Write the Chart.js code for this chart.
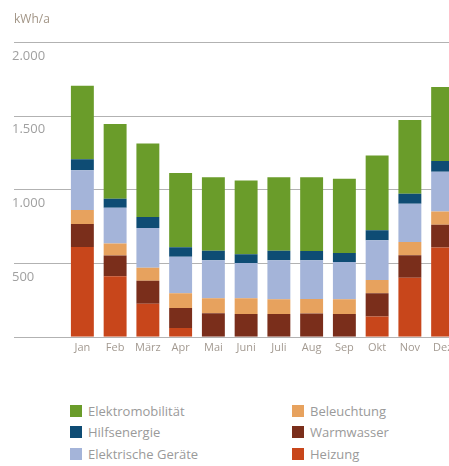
<!DOCTYPE html>
<html lang="de">
<head>
<meta charset="utf-8">
<title>Stromverbrauch je Monat</title>
<script src="https://cdn.jsdelivr.net/npm/chart.js@4"></script>
<style>
  html, body { margin: 0; padding: 0; background: #fff; overflow: hidden; }
  #wrap { position: relative; width: 449px; height: 466px; overflow: hidden; }
  #chart { position: absolute; left: 0; top: 0; }
  #legend {
    position: absolute; left: 70px; top: 400px;
    display: grid; grid-template-rows: repeat(3, 21.5px); grid-auto-flow: column;
    grid-template-columns: 222px auto;
    font: 13px "Open Sans", sans-serif; color: #9a9a9a;
  }
  #legend .item { display: flex; align-items: center; }
  #legend .box { width: 12px; height: 12px; margin-right: 6px; }
</style>
</head>
<body>
<div id="wrap">
  <canvas id="chart" width="462" height="364"></canvas>
  <div id="legend"></div>
</div>
<script>
// monthly demand in kWh, stacked from the bottom up
const months = ['Jan', 'Feb', 'März', 'Apr', 'Mai', 'Juni', 'Juli', 'Aug', 'Sep', 'Okt', 'Nov', 'Dez'];
const heizung = [610, 410, 225, 60, 0, 0, 0, 0, 0, 137, 400, 605];
const warmwasser = [155, 142, 155, 135, 160, 155, 155, 158, 155, 158, 153, 155];
const beleuchtung = [95, 81, 88, 101, 101, 106, 99, 99, 99, 90, 90, 90];
const geraete = [270, 243, 270, 247, 259, 240, 266, 262, 254, 270, 259, 270];
const hilfsenergie = [74, 61, 74, 64, 63, 59, 63, 63, 61, 68, 68, 72];
const elektromobilitaet = [500, 507, 500, 504, 500, 500, 500, 500, 503, 507, 500, 502];

const yTickValues = [500, 1000, 1500, 2000];
const yTickLabels = ['500', '1.000', '1.500', '2.000'];
const unitLabel = 'kWh/a';

// horizontal rules run out to the left edge, labels sit just under each rule
const gridPlugin = {
  id: 'leftGrid',
  beforeDatasetsDraw(chart) {
    const { ctx, scales: { y } } = chart;
    ctx.save();
    ctx.strokeStyle = '#b2b2b2';
    ctx.lineWidth = 1;
    [0, ...yTickValues].forEach(v => {
      const py = Math.round(y.getPixelForValue(v)) + 0.5;
      ctx.beginPath();
      ctx.moveTo(14, py);
      ctx.lineTo(chart.width, py);
      ctx.stroke();
    });
    ctx.fillStyle = '#a0a0a0';
    ctx.font = '13px "Open Sans"';
    ctx.textBaseline = 'middle';
    yTickValues.forEach((v, i) => {
      ctx.fillText(yTickLabels[i], 12, y.getPixelForValue(v) + 14);
    });
    ctx.fillStyle = '#a29586';
    ctx.font = '12px "Open Sans"';
    ctx.fillText(unitLabel, 14, 20);
    ctx.restore();
  }
};

const chart = new Chart(document.getElementById('chart'), {
  type: 'bar',
  data: {
    labels: months,
    datasets: [
      { label: 'Heizung', data: heizung, backgroundColor: '#c8461b' },
      { label: 'Warmwasser', data: warmwasser, backgroundColor: '#7a2e1b' },
      { label: 'Beleuchtung', data: beleuchtung, backgroundColor: '#e7a25e' },
      { label: 'Elektrische Geräte', data: geraete, backgroundColor: '#a4b4d9' },
      { label: 'Hilfsenergie', data: hilfsenergie, backgroundColor: '#0e4c74' },
      { label: 'Elektromobilität', data: elektromobilitaet, backgroundColor: '#6a9c2a' }
    ]
  },
  options: {
    responsive: false,
    animation: false,
    layout: { padding: { top: 42, left: 66, right: 3, bottom: 6 } },
    datasets: { bar: { barPercentage: 0.7, categoryPercentage: 1.0, borderWidth: 0 } },
    scales: {
      x: {
        stacked: true,
        grid: { display: false, drawTicks: false },
        border: { display: false },
        ticks: { color: '#a39a91', font: { family: 'Open Sans', size: 11 }, padding: 4, maxRotation: 0 }
      },
      y: { stacked: true, display: false, min: 0, max: 2000 }
    },
    plugins: { legend: { display: false }, tooltip: { enabled: false } }
  },
  plugins: [gridPlugin]
});

// two-column legend, top row first: reversed stack order
const legendEl = document.getElementById('legend');
chart.data.datasets.slice().reverse().forEach(ds => {
  const item = document.createElement('div');
  item.className = 'item';
  const box = document.createElement('span');
  box.className = 'box';
  box.style.background = ds.backgroundColor;
  const text = document.createElement('span');
  text.textContent = ds.label;
  item.appendChild(box);
  item.appendChild(text);
  legendEl.appendChild(item);
});
</script>
</body>
</html>
